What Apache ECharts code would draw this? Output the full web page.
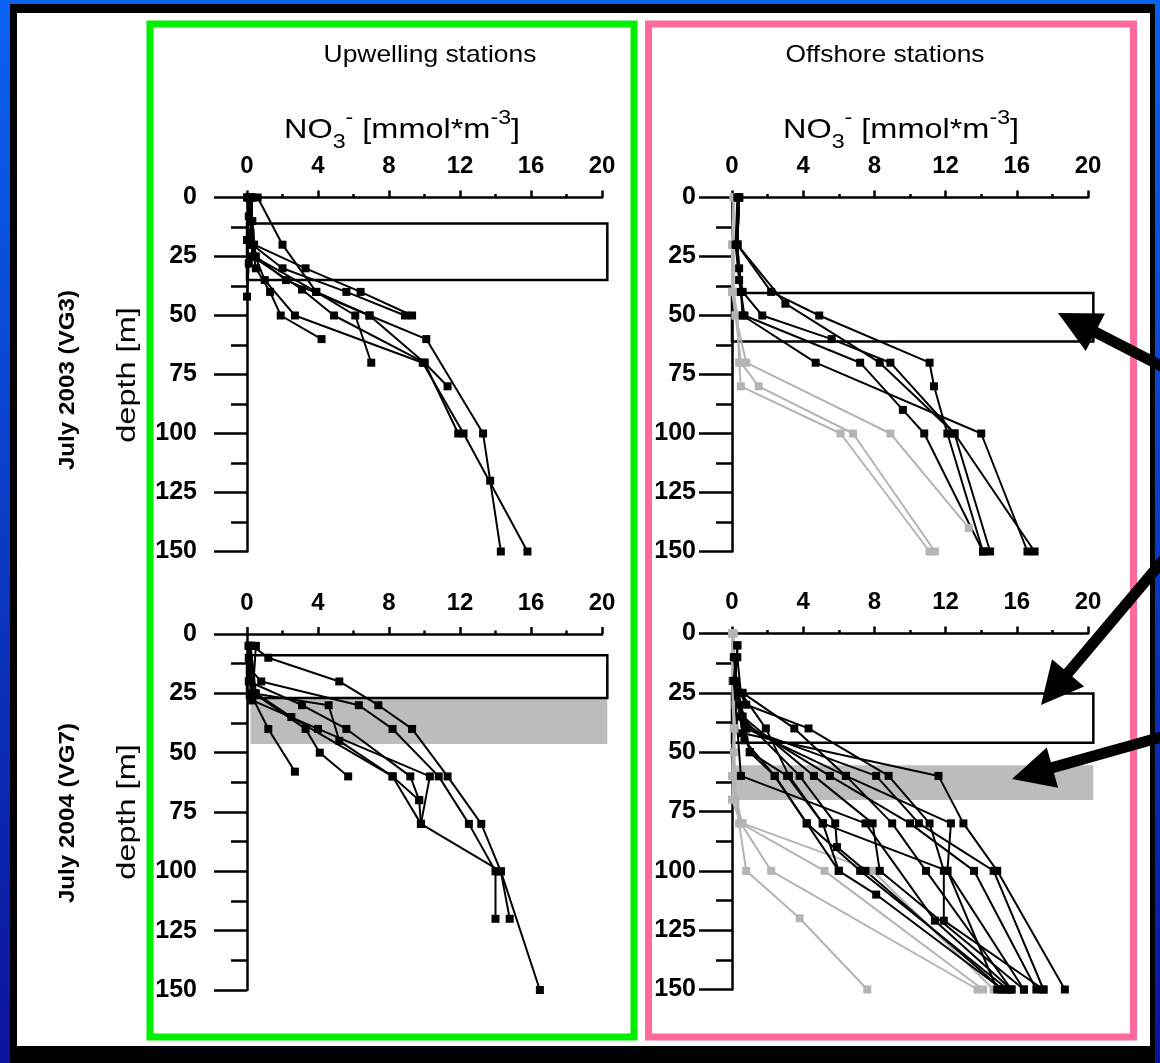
<!DOCTYPE html>
<html><head><meta charset="utf-8">
<script src="https://cdn.jsdelivr.net/npm/echarts@6/dist/echarts.min.js"></script>
<style>html,body{margin:0;padding:0;background:#fff}#c{width:1160px;height:1063px}</style>
</head><body><div id="c"></div>
<script>
// ---- tick values ----
const no3Ticks = [0, 4, 8, 12, 16, 20];
const depthTicks = [0, 25, 50, 75, 100, 125, 150];

// ---- profiles: [NO3 (mmol m-3), depth (m)] ----
const up2003 = [
  [[0.2,0],[0.3,10],[0.4,20],[3.3,30],[6.4,40],[9.3,50]],
  [[0.1,0],[0.2,10],[0.3,20],[2.0,30],[5.6,40],[8.9,50]],
  [[0.6,0],[2.0,20],[3.9,40],[6.9,50],[10.0,70],[11.3,80]],
  [[0.2,0],[0.2,15],[0.5,30],[1.3,40],[1.9,50],[4.2,60]],
  [[0.3,0],[0.2,20],[1.0,35],[2.7,50],[9.9,70],[12.2,100],[15.8,150]],
  [[0.1,0],[0.3,25],[3.1,39],[4.9,50],[10.0,70],[11.9,100]],
  [[0.2,0],[0.4,25],[3.9,40],[6.1,50],[7.0,70]],
  [[0.1,0],[0.5,25],[2.2,35],[6.9,50],[10.1,60],[13.3,100],[13.7,120],[14.3,150]],
  [[0.0,0],[0.1,8],[0.0,18],[0.1,28],[0.0,42]]
];
const off2003Gray = [
  [[0.1,0],[0.1,20],[0.1,40],[0.3,50],[0.4,70],[0.5,80],[6.1,100],[11.1,150]],
  [[0.1,0],[0.0,20],[0.1,40],[0.2,50],[0.5,70],[1.5,80],[6.8,100],[11.4,150]],
  [[0.1,0],[0.0,20],[0.0,40],[0.2,50],[0.8,70],[8.9,100],[13.3,140]]
];
const off2003Black = [
  [[0.4,0],[0.3,20],[0.5,40],[0.6,50],[4.7,70],[14.0,100],[16.6,150]],
  [[0.4,0],[0.3,20],[2.2,40],[4.9,50],[11.1,70],[11.35,80],[12.1,100],[14.1,150]],
  [[0.4,0],[0.3,20],[3.0,45],[8.3,70],[12.5,100],[17.0,150]],
  [[0.4,0],[0.3,20],[0.4,30],[0.6,40],[1.7,50],[5.6,60],[8.9,70],[12.5,100],[14.5,150]],
  [[0.3,0],[0.2,20],[0.4,35],[0.7,50],[7.2,70],[9.6,90],[10.8,100],[14.1,150]]
];
const up2004 = [
  [[0.3,5],[1.2,10],[5.2,20],[7.4,30],[9.3,40],[11.3,60],[13.2,80],[14.3,100],[16.5,150]],
  [[0.1,5],[0.2,15],[0.8,20],[6.3,30],[8.2,40],[10.8,60],[12.5,80],[14.0,100],[14.0,120]],
  [[0.1,5],[0.1,20],[3.1,30],[5.6,40],[9.2,60],[9.7,70],[9.8,80],[14.3,100],[14.8,120]],
  [[0.2,5],[0.3,25],[4.6,30],[5.2,45],[8.2,60],[9.7,70]],
  [[0.1,5],[0.2,25],[1.2,40],[2.7,58]],
  [[0.1,10],[0.4,25],[3.3,40],[4.1,50],[5.7,60]],
  [[0.5,5],[0.3,28],[4.0,40],[10.3,60],[9.8,80]],
  [[0.2,5],[0.5,25],[2.5,35],[8.2,60],[9.8,80]]
];
const off2004Gray = [
  [[0.0,0],[0.0,20],[0.1,40],[0.0,60],[0.4,80],[0.8,100],[3.8,120],[7.6,150]],
  [[0.0,0],[0.1,20],[0.1,50],[0.0,70],[0.5,80],[2.2,100],[13.8,150]],
  [[0.1,0],[0.2,30],[0.1,60],[0.5,80],[5.2,100],[14.1,150]],
  [[0.0,0],[0.1,40],[0.2,70],[0.6,80],[7.9,100],[14.7,150]]
];
const off2004Black = [
  [[0.3,5],[0.3,10],[0.5,25],[1.9,40],[3.2,60],[5.1,80],[6.0,100],[8.1,110],[15.2,150]],
  [[0.3,5],[0.2,20],[0.6,25],[3.5,40],[6.4,60],[9.0,80],[10.9,100],[15.7,150]],
  [[0.2,10],[0.1,20],[0.8,30],[4.3,40],[8.8,60],[11.1,80],[11.9,100],[11.9,121],[17.5,150]],
  [[0.1,10],[0.4,30],[1.0,50],[2.4,60],[4.2,80],[6.0,100]],
  [[0.1,20],[0.5,35],[3.8,60],[5.8,80],[5.9,90],[7.5,100],[15.2,150]],
  [[0.1,20],[0.5,60],[7.5,80],[11.4,121],[15.7,150]],
  [[0.1,20],[0.6,35],[4.6,60],[7.9,80],[8.3,100],[16.4,150]],
  [[0.2,20],[0.7,38],[5.5,60],[10.0,80],[13.6,100],[17.1,150]],
  [[0.2,20],[0.8,40],[8.1,60],[10.5,80],[14.7,100],[17.5,150]],
  [[0.1,20],[0.6,42],[11.6,60],[13.0,80],[14.9,100],[18.7,150]],
  [[0.2,20],[0.7,45],[2.4,60],[4.2,80],[7.2,100],[15.5,150]],
  [[0.2,20],[1.0,50],[3.1,60],[5.1,80],[12.1,100],[14.9,150]],
  [[0.2,20],[0.8,40],[6.4,60],[12.3,80],[12.1,100],[16.4,150]]
];
// layer boxes: [NO3 start, depth top, NO3 end, depth bottom]
const openBox2003Up = [[0, 11, 20.3, 35]];
const openBox2003Off = [[0, 40.5, 20.3, 61]];
const openBox2004Up = [[0, 9, 20.3, 27]];
const grayBox2004Up = [[0.2, 27, 20.3, 46.3]];
const openBox2004Off = [[0, 25.3, 20.3, 46]];
const grayBox2004Off = [[0, 55.5, 20.3, 70.2]];

const FONT = '"Liberation Sans", Arial, Helvetica, sans-serif';
const grids = [
  {left: 247, top: 197.5, width: 355, height: 354},
  {left: 732, top: 197.5, width: 356, height: 354},
  {left: 247, top: 634, width: 355, height: 356},
  {left: 732, top: 633.5, width: 356, height: 356}
];
const labelMargins = [50, 36, 50, 36];

const xAxes = grids.map((g, i) => ({
  gridIndex: i, type: 'value', position: 'top',
  min: no3Ticks[0], max: no3Ticks[no3Ticks.length - 1], interval: no3Ticks[1] - no3Ticks[0],
  axisLine: {show: true, onZero: false, lineStyle: {color: '#000', width: 2.5}},
  axisTick: {show: true, length: 7, lineStyle: {color: '#000', width: 2.5}},
  minorTick: {show: true, splitNumber: 2, length: 3.5, lineStyle: {color: '#000', width: 2.5}},
  splitLine: {show: false},
  axisLabel: {color: '#000', fontWeight: 'bold', fontSize: 24, fontFamily: FONT, margin: 19}
}));
const yAxes = grids.map((g, i) => ({
  gridIndex: i, type: 'value', inverse: true,
  min: depthTicks[0], max: depthTicks[depthTicks.length - 1], interval: depthTicks[1] - depthTicks[0],
  axisLine: {show: true, onZero: false, lineStyle: {color: '#000', width: 2.5}},
  axisTick: {show: true, length: 33, lineStyle: {color: '#000', width: 2.5}},
  minorTick: {show: true, splitNumber: 2, length: 16, lineStyle: {color: '#000', width: 2.5}},
  splitLine: {show: false},
  axisLabel: {color: '#000', fontWeight: 'bold', fontSize: 25, fontFamily: FONT, margin: labelMargins[i]}
}));

function profileSeries(idx, profiles, color) {
  return profiles.map(p => ({
    type: 'line', xAxisIndex: idx, yAxisIndex: idx, data: p, z: 5,
    symbol: 'rect', symbolSize: 8, showSymbol: true, silent: true, clip: false,
    lineStyle: {color: color, width: 2}, itemStyle: {color: color}
  }));
}
function boxSeries(idx, boxes, fill, stroke) {
  return {
    type: 'custom', xAxisIndex: idx, yAxisIndex: idx, data: boxes, clip: false, silent: true, z: 2,
    encode: {x: [0, 2], y: [1, 3]},
    renderItem: (params, api) => {
      const p0 = api.coord([api.value(0), api.value(1)]);
      const p1 = api.coord([api.value(2), api.value(3)]);
      return {type: 'rect', shape: {x: p0[0], y: p0[1], width: p1[0] - p0[0], height: p1[1] - p0[1]},
        style: {fill: fill, stroke: stroke, lineWidth: 2.5}};
    }
  };
}

const series = [].concat(
  boxSeries(0, openBox2003Up, 'none', '#000'),
  boxSeries(1, openBox2003Off, 'none', '#000'),
  boxSeries(2, grayBox2004Up, '#bcbcbc', null),
  boxSeries(2, openBox2004Up, 'none', '#000'),
  boxSeries(3, grayBox2004Off, '#bcbcbc', null),
  boxSeries(3, openBox2004Off, 'none', '#000'),
  profileSeries(0, up2003, '#000'),
  profileSeries(1, off2003Gray, '#b4b4b4'),
  profileSeries(1, off2003Black, '#000'),
  profileSeries(2, up2004, '#000'),
  profileSeries(3, off2004Gray, '#b4b4b4'),
  profileSeries(3, off2004Black, '#000')
);

function arrow(tail, tip) {
  const dx = tip[0] - tail[0], dy = tip[1] - tail[1];
  const L = Math.hypot(dx, dy), ux = dx / L, uy = dy / L, nx = -uy, ny = ux;
  const hl = 42, hw = 21, sw = 5.5;
  const bx = tip[0] - ux * hl, by = tip[1] - uy * hl;
  return {type: 'polygon', z: 200, silent: true, shape: {points: [
    [tail[0] + nx * sw, tail[1] + ny * sw], [bx + nx * sw, by + ny * sw], [bx + nx * hw, by + ny * hw], tip,
    [bx - nx * hw, by - ny * hw], [bx - nx * sw, by - ny * sw], [tail[0] - nx * sw, tail[1] - ny * sw]]},
    style: {fill: '#000'}};
}
const titleRich = {
  b: {fontSize: 28, fontFamily: FONT, color: '#000', lineHeight: 44, verticalAlign: 'middle'},
  sub: {fontSize: 20, fontFamily: FONT, color: '#000', lineHeight: 20, verticalAlign: 'bottom'},
  sup: {fontSize: 20, fontFamily: FONT, color: '#000', lineHeight: 22, verticalAlign: 'top'}
};
function no3Title(cx, cy) {
  return {type: 'text', z: 50, x: cx, y: cy, scaleX: 1.16, style: {
    text: '{b|NO}{sub|3}{sup|-}{b| [mmol*m}{sup|-3}{b|]}', rich: titleRich,
    align: 'center', verticalAlign: 'middle'}};
}
function txt(t, cx, cy, size, weight, rot, sx) {
  return {type: 'text', z: 50, x: cx, y: cy, rotation: rot || 0, scaleX: sx || 1, style: {
    text: t, fontSize: size, fontWeight: weight, fontFamily: FONT, fill: '#000',
    align: 'center', verticalAlign: 'middle'}};
}

const graphic = [
  {type: 'rect', z: -20, silent: true, shape: {x: 0, y: 0, width: 1160, height: 1063},
    style: {fill: new echarts.graphic.LinearGradient(0, 0, 0, 1, [{offset: 0, color: '#0a62f2'}, {offset: 1, color: '#0a149a'}])}},
  {type: 'rect', z: -19, silent: true, shape: {x: 10, y: 4, width: 1145, height: 1059}, style: {fill: '#000'}},
  {type: 'rect', z: -18, silent: true, shape: {x: 17, y: 13, width: 1133, height: 1033}, style: {fill: '#fff'}},
  {type: 'rect', z: 150, silent: true, shape: {x: 150, y: 24, width: 484, height: 1013},
    style: {fill: 'none', stroke: '#00f000', lineWidth: 7}},
  {type: 'rect', z: 150, silent: true, shape: {x: 648.5, y: 24, width: 485, height: 1013},
    style: {fill: 'none', stroke: '#ff6a9a', lineWidth: 7}},
  txt('Upwelling stations', 430, 55, 24, 'normal', 0, 1.1),
  txt('Offshore stations', 885, 55, 24, 'normal', 0, 1.1),
  no3Title(402, 130),
  no3Title(901, 130),
  txt('July 2003 (VG3)', 68, 380, 22, 'bold', Math.PI / 2, 1.1),
  txt('depth [m]', 128, 375, 26, 'normal', Math.PI / 2, 1.25),
  txt('July 2004 (VG7)', 68, 813, 22, 'bold', Math.PI / 2, 1.1),
  txt('depth [m]', 128, 812, 26, 'normal', Math.PI / 2, 1.25),
  arrow([1165, 368], [1058, 313]),
  arrow([1165, 558], [1041, 705]),
  arrow([1165, 736], [1012, 779])
];

const chart = echarts.init(document.getElementById('c'), null, {renderer: 'canvas'});
chart.setOption({
  animation: false,
  backgroundColor: '#fff',
  grid: grids,
  xAxis: xAxes,
  yAxis: yAxes,
  series: series,
  graphic: graphic
});
</script></body></html>
